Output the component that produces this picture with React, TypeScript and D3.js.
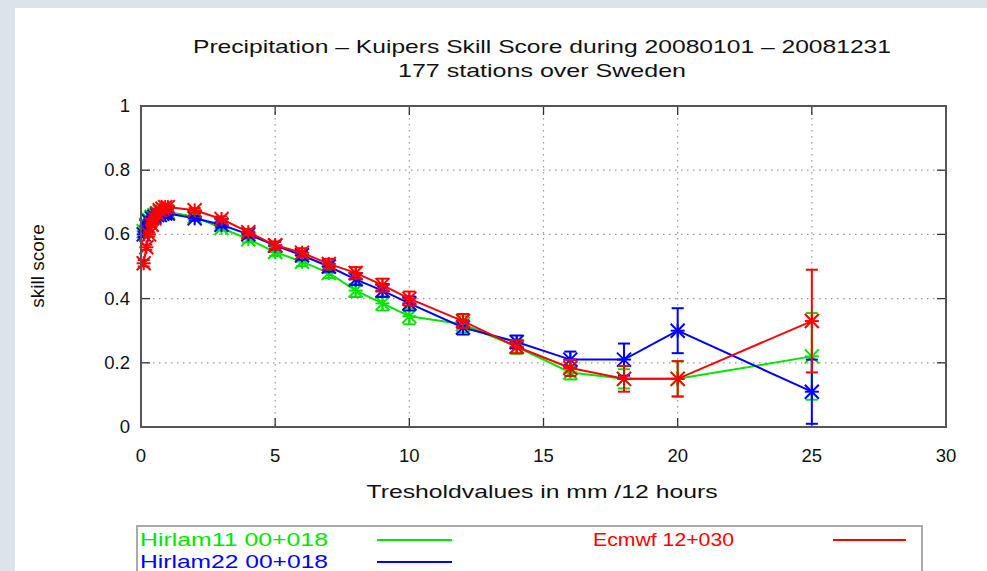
import React from "react";
import * as d3 from "d3";

const thresholds = [0.1, 0.2, 0.3, 0.4, 0.5, 0.6, 0.7, 0.8, 0.9, 1, 2, 3, 4, 5, 6, 7, 8, 9, 10, 12, 14, 16, 18, 20, 25];

const hirlam11 = [0.61, 0.63, 0.645, 0.655, 0.66, 0.665, 0.67, 0.67, 0.67, 0.67, 0.655, 0.62, 0.585, 0.545, 0.515, 0.48, 0.425, 0.385, 0.345, 0.32, 0.25, 0.17, 0.15, 0.15, 0.22];
const hirlam11Err = [0.008, 0.007, 0.006, 0.006, 0.006, 0.006, 0.006, 0.006, 0.006, 0.006, 0.007, 0.008, 0.01, 0.012, 0.014, 0.016, 0.02, 0.022, 0.025, 0.025, 0.022, 0.022, 0.03, 0.055, 0.135];

const hirlam22 = [0.6, 0.625, 0.64, 0.65, 0.655, 0.66, 0.66, 0.665, 0.665, 0.665, 0.65, 0.63, 0.6, 0.565, 0.535, 0.5, 0.46, 0.425, 0.385, 0.31, 0.265, 0.21, 0.21, 0.3, 0.11];
const hirlam22Err = [0.008, 0.007, 0.006, 0.006, 0.006, 0.006, 0.006, 0.006, 0.006, 0.006, 0.007, 0.008, 0.01, 0.012, 0.014, 0.016, 0.018, 0.02, 0.022, 0.022, 0.02, 0.025, 0.05, 0.07, 0.1];

const ecmwf = [0.51, 0.56, 0.6, 0.63, 0.65, 0.665, 0.675, 0.68, 0.685, 0.685, 0.675, 0.648, 0.607, 0.566, 0.543, 0.508, 0.48, 0.442, 0.4, 0.33, 0.25, 0.184, 0.15, 0.15, 0.33];
const ecmwfErr = [0.01, 0.008, 0.007, 0.006, 0.006, 0.006, 0.006, 0.006, 0.006, 0.006, 0.007, 0.008, 0.01, 0.012, 0.014, 0.016, 0.018, 0.02, 0.022, 0.022, 0.02, 0.025, 0.04, 0.055, 0.16];

const xTicks = [0, 5, 10, 15, 20, 25, 30];
const yTicks = [0, 0.2, 0.4, 0.6, 0.8, 1];

const seriesNames = ["Hirlam11 00+018", "Hirlam22 00+018", "Ecmwf 12+030"];
const seriesColors = ["#00e600", "#0000ff", "#ff0000"];
const seriesValues = [hirlam11, hirlam22, ecmwf];
const seriesErrors = [hirlam11Err, hirlam22Err, ecmwfErr];

const titleLine1 = "Precipitation \u2013 Kuipers Skill Score during 20080101 \u2013 20081231";
const titleLine2 = "177 stations over Sweden";
const xLabel = "Tresholdvalues in mm /12 hours";
const yLabel = "skill score";

const W = 987;
const H = 571;
const left = 141, right = 946, top = 106, bottom = 427;
const FONT = "'Liberation Sans', Arial, Helvetica, sans-serif";

export default function App() {
  const x = d3.scaleLinear().domain([0, 30]).range([left, right]);
  const y = d3.scaleLinear().domain([0, 1]).range([bottom, top]);
  const line = d3.line<number>().x((_, i) => x(thresholds[i])).y((d) => y(d));
  const cap = 6;
  const ms = 7;

  return (
    <svg width={W} height={H} style={{ position: "fixed", left: 0, top: 0, display: "block" }} fontFamily={FONT}>
      <rect x={0} y={0} width={W} height={H} fill="#dce3ea" />
      <rect x={15} y={8} width={W - 15} height={H - 8} fill="#ffffff" />

      {/* grid */}
      {xTicks.filter((t) => t > 0 && t < 30).map((t) => (
        <line key={"gx" + t} x1={x(t)} x2={x(t)} y1={top} y2={bottom} stroke="#9a9a9a" strokeWidth={1.2} strokeDasharray="1.5,4.5" />
      ))}
      {yTicks.filter((t) => t > 0 && t < 1).map((t) => (
        <line key={"gy" + t} x1={left} x2={right} y1={y(t)} y2={y(t)} stroke="#9a9a9a" strokeWidth={1.2} strokeDasharray="1.5,4.5" />
      ))}

      {/* ticks */}
      {xTicks.map((t) => (
        <g key={"tx" + t}>
          <line x1={x(t)} x2={x(t)} y1={bottom} y2={bottom - 9} stroke="#333" strokeWidth={1.3} />
          <line x1={x(t)} x2={x(t)} y1={top} y2={top + 9} stroke="#333" strokeWidth={1.3} />
          <text x={x(t)} y={462} textAnchor="middle" fontSize={18.5} fill="#111">{t}</text>
        </g>
      ))}
      {yTicks.map((t) => (
        <g key={"ty" + t}>
          <line x1={left} x2={left + 9} y1={y(t)} y2={y(t)} stroke="#333" strokeWidth={1.3} />
          <line x1={right} x2={right - 9} y1={y(t)} y2={y(t)} stroke="#333" strokeWidth={1.3} />
          <text x={130} y={y(t) + 6} textAnchor="end" fontSize={18.5} fill="#111">{t}</text>
        </g>
      ))}

      {/* series */}
      {seriesValues.map((vals, si) => {
        const c = seriesColors[si];
        const errs = seriesErrors[si];
        return (
          <g key={"s" + si}>
            <path d={line(vals) || ""} fill="none" stroke={c} strokeWidth={2} />
            {vals.map((v, i) => {
              const cx = x(thresholds[i]);
              const lo = y(v - errs[i]);
              const hi = y(v + errs[i]);
              const cy = y(v);
              return (
                <g key={i} stroke={c} strokeWidth={2}>
                  <line x1={cx} x2={cx} y1={lo} y2={hi} />
                  <line x1={cx - cap} x2={cx + cap} y1={lo} y2={lo} />
                  <line x1={cx - cap} x2={cx + cap} y1={hi} y2={hi} />
                  <line x1={cx - ms} x2={cx + ms} y1={cy} y2={cy} />
                  <line x1={cx} x2={cx} y1={cy - ms} y2={cy + ms} />
                  <line x1={cx - ms} x2={cx + ms} y1={cy - ms} y2={cy + ms} />
                  <line x1={cx - ms} x2={cx + ms} y1={cy + ms} y2={cy - ms} />
                </g>
              );
            })}
          </g>
        );
      })}

      {/* frame */}
      <rect x={left} y={top} width={right - left} height={bottom - top} fill="none" stroke="#555" strokeWidth={2} />

      {/* titles */}
      <text x={542} y={53} textAnchor="middle" fontSize={19} fill="#111" textLength={698} lengthAdjust="spacingAndGlyphs">{titleLine1}</text>
      <text x={542} y={77} textAnchor="middle" fontSize={19} fill="#111" textLength={288} lengthAdjust="spacingAndGlyphs">{titleLine2}</text>
      <text x={542} y={498} textAnchor="middle" fontSize={19} fill="#111" textLength={351} lengthAdjust="spacingAndGlyphs">{xLabel}</text>
      <text transform="translate(44,266) rotate(-90)" textAnchor="middle" fontSize={19} fill="#111">{yLabel}</text>

      {/* legend */}
      <rect x={137} y={526} width={785} height={60} fill="#fff" stroke="#aaa" strokeWidth={2} />
      <text x={140} y={546} fontSize={19} fill={seriesColors[0]} textLength={188} lengthAdjust="spacingAndGlyphs">{seriesNames[0]}</text>
      <line x1={377} x2={452} y1={540} y2={540} stroke={seriesColors[0]} strokeWidth={2} />
      <text x={140} y={568} fontSize={19} fill={seriesColors[1]} textLength={188} lengthAdjust="spacingAndGlyphs">{seriesNames[1]}</text>
      <line x1={377} x2={452} y1={562} y2={562} stroke={seriesColors[1]} strokeWidth={2} />
      <text x={593} y={546} fontSize={19} fill={seriesColors[2]} textLength={141} lengthAdjust="spacingAndGlyphs">{seriesNames[2]}</text>
      <line x1={833} x2={906} y1={540} y2={540} stroke={seriesColors[2]} strokeWidth={2} />
    </svg>
  );
}
